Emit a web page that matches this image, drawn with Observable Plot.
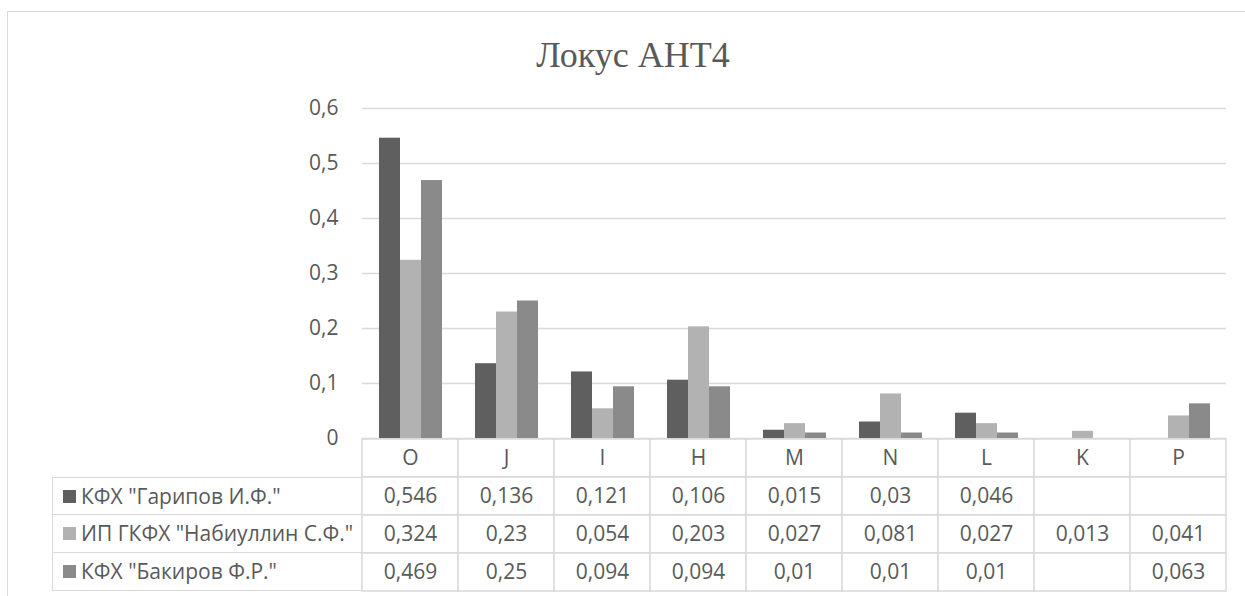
<!DOCTYPE html>
<html>
<head>
<meta charset="utf-8">
<script src="https://cdn.jsdelivr.net/npm/d3@7"></script>
<script src="https://cdn.jsdelivr.net/npm/@observablehq/plot@0.6"></script>
<style>
  html, body { margin: 0; padding: 0; background: #fff; width: 1245px; height: 596px; overflow: hidden; }
  #frame { position: absolute; left: 7px; top: 11px; width: 1300px; height: 700px; border: 1.5px solid #d9d9d9; box-sizing: border-box; }
  #title { position: absolute; left: 0; width: 1266px; top: 37px; text-align: center; font: 36px/1 "Liberation Serif", "Times New Roman", serif; color: #595959; }
  #chart { position: absolute; left: 0; top: 0; }
  #table { position: absolute; left: 0; top: 438px; }
  .lg { position: absolute; left: 52px; width: 309px; height: 38px; box-sizing: border-box;
        border-left: 1.5px solid #d9d9d9; border-bottom: 1.5px solid #d9d9d9;
        font: 21px "Open Sans", sans-serif; color: #595959; white-space: nowrap; }
  .lg .sw { position: absolute; left: 10px; top: 12px; width: 13px; height: 13px; }
  .lg .tx { position: absolute; left: 28px; top: 0; line-height: 37px; }
</style>
</head>
<body>
<div id="frame"></div>
<div id="title">Локус АНТ4</div>
<div id="chart"></div>
<div id="table"></div>
<div id="legend"></div>
<script>
// Allele categories of the locus and frequencies per farm (empty = not found)
const categories = ["O", "J", "I", "H", "M", "N", "L", "K", "P"];
const seriesNames = ['КФХ "Гарипов И.Ф."', 'ИП ГКФХ "Набиуллин С.Ф."', 'КФХ "Бакиров Ф.Р."'];
const garipov   = [0.546, 0.136, 0.121, 0.106, 0.015, 0.03, 0.046, null, null];
const nabiullin = [0.324, 0.23, 0.054, 0.203, 0.027, 0.081, 0.027, 0.013, 0.041];
const bakirov   = [0.469, 0.25, 0.094, 0.094, 0.01, 0.01, 0.01, null, 0.063];
const seriesColors = ["#5f5f5f", "#b2b2b2", "#8a8a8a"];
const yTicks = [0, 0.1, 0.2, 0.3, 0.4, 0.5, 0.6];

const seriesValues = [garipov, nabiullin, bakirov];
const fmt = d => String(d).replace(".", ",");
const font = '"Open Sans", sans-serif';

// long table: one row per (category, series)
const rows = [];
seriesNames.forEach((s, si) => {
  categories.forEach((c, ci) => {
    rows.push({category: c, series: s, value: seriesValues[si][ci]});
  });
});

const chart = Plot.plot({
  width: 1245,
  height: 460,
  marginTop: 108,
  marginBottom: 22,
  marginLeft: 361,
  marginRight: 18,
  style: {fontFamily: font, fontSize: "21px", color: "#595959", background: "transparent"},
  fx: {domain: categories, padding: 0, axis: null},
  x: {domain: seriesNames, paddingInner: 0, paddingOuter: 0.75, axis: null},
  y: {domain: [0, 0.6]},
  color: {domain: seriesNames, range: seriesColors},
  marks: [
    Plot.gridY(yTicks, {stroke: "#d9d9d9", strokeOpacity: 1, strokeWidth: 1.5}),
    Plot.axisY(yTicks, {tickSize: 0, tickPadding: 24, tickFormat: fmt, fontSize: 21, color: "#595959", label: null}),
    Plot.barY(rows.filter(d => d.value != null), {fx: "category", x: "series", y: "value", fill: "series"})
  ]
});
document.getElementById("chart").append(chart);

// data table under the chart: header row of categories, then one row per series
const tableCells = [];
categories.forEach(c => tableCells.push({category: c, row: "hdr", label: c}));
rows.forEach(d => tableCells.push({category: d.category, row: d.series, label: d.value == null ? "" : fmt(d.value)}));

const table = Plot.plot({
  width: 1245,
  height: 158,
  marginTop: 1,
  marginBottom: 5,
  marginLeft: 361,
  marginRight: 18,
  style: {fontFamily: font, fontSize: "21px", color: "#595959", background: "transparent"},
  x: {domain: categories, padding: 0, axis: null},
  y: {domain: ["hdr", ...seriesNames], padding: 0, axis: null},
  marks: [
    Plot.cell(tableCells, {x: "category", y: "row", fill: "white", stroke: "#d9d9d9", strokeWidth: 1.5, inset: 0}),
    Plot.text(tableCells, {x: "category", y: "row", text: "label", fontSize: 21, fill: "#595959"})
  ]
});
document.getElementById("table").append(table);

// legend column of the table
const legend = document.getElementById("legend");
seriesNames.forEach((s, i) => {
  const row = document.createElement("div");
  row.className = "lg";
  row.style.top = (477 + i * 38) + "px";
  if (i === 0) row.style.borderTop = "1.5px solid #d9d9d9";
  const sw = document.createElement("div");
  sw.className = "sw";
  sw.style.background = seriesColors[i];
  const tx = document.createElement("div");
  tx.className = "tx";
  tx.textContent = s;
  row.append(sw, tx);
  legend.append(row);
});
</script>
</body>
</html>
